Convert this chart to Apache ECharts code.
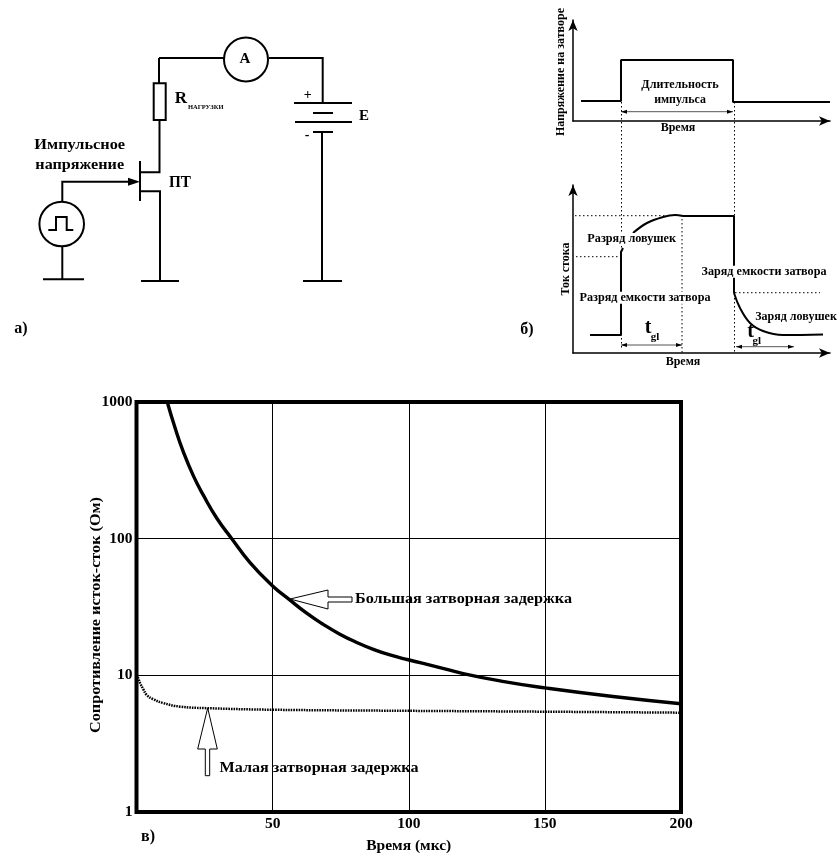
<!DOCTYPE html>
<html><head><meta charset="utf-8">
<style>html,body{margin:0;padding:0;background:#fff}#c{width:838px;height:853px;filter:blur(0.4px)}</style>
<script src="https://cdn.jsdelivr.net/npm/echarts@6/dist/echarts.min.js"></script>
</head><body><div id="c"></div>
<script>
// Chart в): resistance vs time
const xTicks = [50, 100, 150, 200];
const yTicks = [1, 10, 100, 1000];
const largeDelayTime = [11.3, 14.1, 17.2, 20.9, 24.5, 29.5, 35, 41.7, 49.7, 56.4, 62.5, 68.6, 74.7, 80.9, 87, 93.1, 99.8, 110, 120, 135, 150, 175, 200];
const largeDelayOhm  = [1000, 653, 432, 288, 209, 141, 100, 66.8, 45.7, 35.5, 28.5, 23.6, 20, 17.4, 15.5, 14.1, 13, 11.6, 10.3, 9.0, 8.1, 7.0, 6.2];
const smallDelayTime = [0.5, 1.3, 2.5, 3.7, 6, 9.8, 16, 26, 50, 100, 150, 200];
const smallDelayOhm  = [9.7, 8.8, 7.9, 7.2, 6.7, 6.27, 5.9, 5.75, 5.6, 5.5, 5.42, 5.33];
// Chart б): pulse diagrams (time and level in axis units)
const gatePulseTime = [8, 48, 48, 160, 160, 257];
const gatePulseVolt = [20, 20, 61, 61, 19, 19];
const drainStepTime = [17, 48, 48, 50];
const drainStepAmp  = [18, 18, 101, 105];
const drainTrapTime = [60, 74, 90, 102, 110];
const drainTrapAmp  = [120, 130, 136, 138, 137];
const drainTopTime  = [110, 161, 161];
const drainTopAmp   = [137, 137, 60];
const drainFallTime = [161, 167, 177, 190, 210, 250];
const drainFallAmp  = [60, 45, 30, 22, 18, 18.5];

const FONT = '"Liberation Serif", serif';
const wires = [
  [[159,58],[224,58]], [[269,58],[322.7,58],[322.7,103]],
  [[294,103],[352,103]], [[313,113],[333,113]], [[295,122],[352,122]], [[313,132],[333,132]],
  [[322,132],[322,281]], [[303,281],[342,281]],
  [[159,58],[159,83]], [[159.5,120],[159.5,172.3],[140,172.3]],
  [[140,161],[140,201]], [[140,191.3],[160,191.3],[160,281]], [[141,281],[179,281]],
  [[62.3,201.7],[62.3,181.7],[130,181.7]],
  [[62.3,246],[62.3,279.3]], [[43,279.3],[84,279.3]]
];
const pulseGlyph = [[48.3,230],[56,230],[56,217],[66.7,217],[66.7,230],[73.3,230]];
const rects = [[[153.7,83.3],[165.7,83.3],[165.7,120],[153.7,120]]];
const circles = [[246,59.5,22],[61.7,224,22.3]];
const solidHeads = [
  [[140,181.7],[128,177.7],[128,185.7]],
  [[621,111.7],[627,109.7],[627,113.7]], [[733,111.7],[727,109.7],[727,113.7]],
  [[621,345],[627,343],[627,347]], [[682,345],[676,343],[676,347]],
  [[736,346.7],[742,344.7],[742,348.7]], [[794,346.7],[788,344.7],[788,348.7]]
];
const thin = [[[621,111.7],[733,111.7]], [[621,345],[682,345]], [[736,346.7],[794,346.7]]];
const dotted = [
  [[621.5,102],[621.5,350]], [[734.5,102],[734.5,353]], [[682,215],[682,353]],
  [[575,215.7],[665,215.7]], [[576,256.7],[619,256.7]], [[735,292.7],[820,292.7]]
];
const outlineArrows = [
  [[290,599],[328,590],[328,597],[352,597],[352,602],[328,602],[328,609]],
  [[207.7,708],[217.3,749],[209.7,749],[209.7,775.7],[205.3,775.7],[205.3,749],[197.7,749]]
];
// text, x, y, font size, rotation, white backing, target width
const notes = [
  ['А',245,59.5,15], ['R',181,99,17], ['НАГРУЗКИ',205.7,107.5,6.5], ['+',307.7,95,14],
  ['Е',364,115.7,15], ['-',307,135,14], ['Импульсное',79.7,145.3,14.5,0,0,90.7], ['напряжение',79.7,165,14.5,0,0,88.7],
  ['ПТ',180,182.7,16,0,0,22], ['а)',21,329,16],
  ['Напряжение на затворе',560.7,72,12,90], ['Длительность',680,84.7,12,0,0,77.3], ['импульса',680,100,12,0,0,51.7],
  ['Время',678,128,12], ['Ток стока',565.7,269,12,90],
  ['Разряд ловушек',631.7,239,11.5,0,1,88.7], ['Разряд емкости затвора',645,297.7,11.5,0,1,131],
  ['Заряд емкости затвора',764,271.7,11.5,0,1,125], ['Заряд ловушек',796,317,11.5,0,1,81.7],
  ['t',648,328,20], ['gl',655,337,11], ['t',750.7,331.7,20], ['gl',756.7,340.7,11],
  ['Время',683,361.7,12], ['б)',527,330,16],
  ['Большая затворная задержка',463.5,599,15,0,0,217], ['Малая затворная задержка',319,768,15,0,0,199],
  ['Сопротивление исток-сток (Ом)',96,615,15,90,0,236], ['в)',148,837,16]
];

const measure = document.createElement('canvas').getContext('2d');
function stretch(t, size, target) {
  if (!target) return 1;
  measure.font = 'bold ' + size + 'px "Liberation Serif"';
  return target / measure.measureText(t).width;
}

const shapes = [];
circles.forEach(c => shapes.push({k:'circle', c}));
shapes.push({k:'line', p:pulseGlyph, w:2});
wires.forEach(p => shapes.push({k:'line', p, w:2}));
thin.forEach(p => shapes.push({k:'line', p, w:1, c:'#555'}));
dotted.forEach(p => shapes.push({k:'line', p, w:1, dash:[1.5,2.5]}));
rects.forEach(p => shapes.push({k:'poly', p, w:2, fill:'#fff'}));
outlineArrows.forEach(p => shapes.push({k:'poly', p, w:1, fill:'#fff'}));
solidHeads.forEach(p => shapes.push({k:'poly', p, w:0, fill:'#000'}));
notes.forEach(n => shapes.push({k:'text', n}));

function renderItem(params, api) {
  const s = shapes[params.dataIndex];
  if (s.k === 'line') {
    return {type:'polyline', shape:{points:s.p.map(q=>api.coord(q))},
      style:{fill:null, stroke:s.c||'#000', lineWidth:s.w, lineDash:s.dash||null}};
  }
  if (s.k === 'poly') {
    return {type:'polygon', shape:{points:s.p.map(q=>api.coord(q))},
      style:{fill:s.fill, stroke:s.w?'#000':null, lineWidth:s.w}};
  }
  if (s.k === 'circle') {
    const c = api.coord([s.c[0],s.c[1]]);
    return {type:'circle', shape:{cx:c[0],cy:c[1],r:s.c[2]}, style:{fill:'#fff',stroke:'#000',lineWidth:2}};
  }
  const [t,x,y,size,rot,bg,target] = s.n;
  const c = api.coord([x,y]);
  return {type:'text', x:c[0], y:c[1], rotation:rot?rot*Math.PI/180:0, scaleX:stretch(t,size,target), z2:10,
    style:{text:t, x:0, y:0, align:'center', verticalAlign:'middle',
      font:'bold '+size+'px '+FONT, fill:'#000',
      backgroundColor:bg?'#fff':null, padding:bg?[0,1]:0}};
}
const pair = (a,b) => a.map((v,i)=>[v,b[i]]);
const pulseAxis = (extra) => Object.assign({type:'value', show:true, min:0, silent:true,
  axisLine:{show:true, onZero:false, symbol:['none','arrow'], symbolSize:[7,11], lineStyle:{color:'#000',width:1.5}},
  axisTick:{show:false}, axisLabel:{show:false}, splitLine:{show:false}}, extra);
const hidden = (extra) => Object.assign({type:'value', show:false, min:0}, extra);
const trace = (x, y, a, b, w, smooth) => ({type:'line', xAxisIndex:x, yAxisIndex:x, showSymbol:false, smooth:smooth||false,
  data:pair(a,b), lineStyle:{color:'#000',width:w}, z:5});

const option = {
  animation:false, backgroundColor:'#fff',
  grid:[
    {left:136.5, top:402, width:544.5, height:410, outerBoundsMode:'none', show:true, borderColor:'#000', borderWidth:4, backgroundColor:'#fff'},
    {left:573, top:20, width:257, height:101, outerBoundsMode:'none'},
    {left:573, top:185, width:257, height:168, outerBoundsMode:'none'},
    {left:0, top:0, width:838, height:853, outerBoundsMode:'none'}
  ],
  xAxis:[
    {type:'value', gridIndex:0, min:0, max:200, interval:50,
      axisLine:{show:false}, axisTick:{show:false},
      axisLabel:{margin:4, color:'#000', fontFamily:FONT, fontWeight:'bold', fontSize:15.5,
        formatter:v=>xTicks.includes(v)?String(v):''},
      splitLine:{show:true, lineStyle:{color:'#000',width:1}},
      name:'Время (мкс)', nameLocation:'middle', nameGap:26,
      nameTextStyle:{color:'#000',fontFamily:FONT,fontWeight:'bold',fontSize:15.5}},
    pulseAxis({gridIndex:1,max:257}),
    pulseAxis({gridIndex:2,max:257}),
    hidden({gridIndex:3,max:838})
  ],
  yAxis:[
    {type:'log', gridIndex:0, min:1, max:1000, logBase:10,
      axisLine:{show:false}, axisTick:{show:false}, minorTick:{show:false},
      axisLabel:{margin:4, color:'#000', fontFamily:FONT, fontWeight:'bold', fontSize:15.5,
        formatter:v=>yTicks.includes(Math.round(v))?String(Math.round(v)):''},
      splitLine:{show:true, lineStyle:{color:'#000',width:1}}},
    pulseAxis({gridIndex:1,max:101}),
    pulseAxis({gridIndex:2,max:168}),
    hidden({gridIndex:3,max:853,inverse:true})
  ],
  series:[
    Object.assign(trace(0,0,largeDelayTime,largeDelayOhm,3.4,0.5),{name:'Большая затворная задержка'}),
    Object.assign(trace(0,0,smallDelayTime,smallDelayOhm,2.5,0.4),
      {name:'Малая затворная задержка', lineStyle:{color:'#000',width:2.5,type:[1.6,1]}}),
    trace(1,1,gatePulseTime,gatePulseVolt,2),
    trace(2,2,drainStepTime,drainStepAmp,2),
    trace(2,2,drainTrapTime,drainTrapAmp,2,0.4),
    trace(2,2,drainTopTime,drainTopAmp,2),
    trace(2,2,drainFallTime,drainFallAmp,2,0.4),
    {type:'custom', xAxisIndex:3, yAxisIndex:3, clip:false, silent:true, renderItem,
      data:shapes.map(()=>[0,0]), z:6}
  ]
};
echarts.init(document.getElementById('c'),null,{renderer:'canvas'}).setOption(option);
</script></body></html>
